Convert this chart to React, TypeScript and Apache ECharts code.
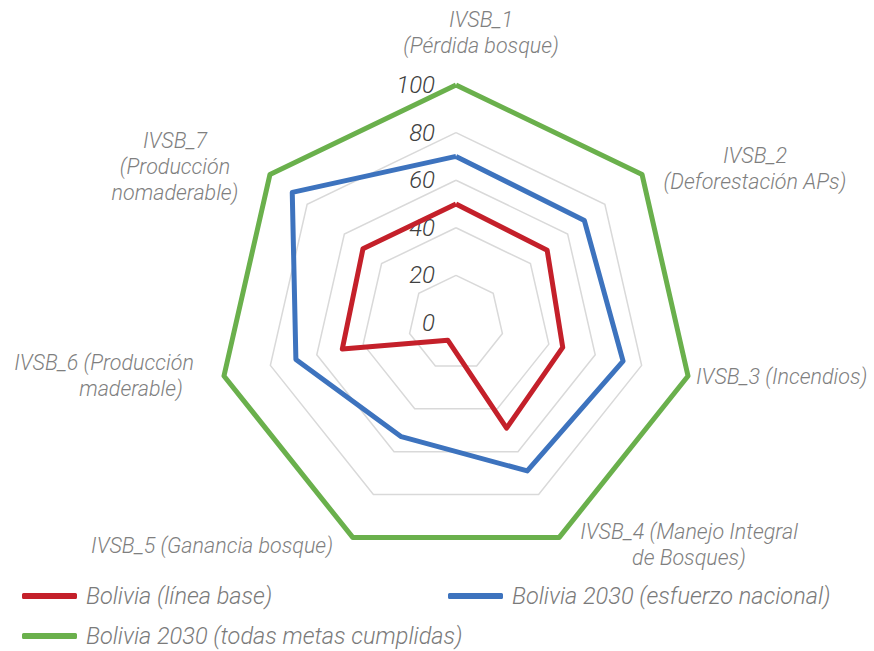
import React, { useEffect, useRef } from "react";
import * as echarts from "echarts";

// ---- data ----
const indicatorNames = [
  "IVSB_1\n(Pérdida bosque)",
  "IVSB_2\n(Deforestación APs)",
  "IVSB_3 (Incendios)",
  "IVSB_4 (Manejo Integral\nde Bosques)",
  "IVSB_5 (Ganancia bosque)",
  "IVSB_6 (Producción\nmaderable)",
  "IVSB_7\n(Producción\nnomaderable)",
];
const seriesNames = [
  "Bolivia (línea base)",
  "Bolivia 2030 (esfuerzo nacional)",
  "Bolivia 2030 (todas metas cumplidas)",
];
const lineaBase = [50, 49, 46, 49, 8, 49, 50];
const esfuerzoNacional = [70, 69, 72, 69, 53, 69, 88];
const metasCumplidas = [100, 100, 100, 100, 100, 100, 100];
const axisMin = 0;
const axisMax = 100;

// ---- layout / style (not data) ----
const FONT = "Roboto";
const colors = ["#C4202A", "#3D73BE", "#6AB04C"];
const nameLayout = [
  { x: 481, y: 32, align: "center", shift: 0 },
  { x: 755, y: 168, align: "center", shift: 0 },
  { x: 696, y: 376, align: "left", shift: 0 },
  { x: 689, y: 544, align: "center", shift: 0 },
  { x: 212, y: 545, align: "center", shift: 0 },
  { x: 104, y: 375, align: "center", shift: 54 },
  { x: 175, y: 166, align: "center", shift: 0 },
];

// ECharts radar places indicators counter-clockwise; reorder to clockwise
const order = [0, 6, 5, 4, 3, 2, 1];
const reorder = (arr: number[]) => order.map((i) => arr[i]);

export default function App() {
  const ref = useRef<HTMLDivElement>(null);
  useEffect(() => {
    if (!ref.current) return;
    const chart = echarts.init(ref.current, undefined, { renderer: "svg" });
    const values = [lineaBase, esfuerzoNacional, metasCumplidas];
    const nameText = (i: number) => {
      const l = nameLayout[i];
      const lines = indicatorNames[i].split("\n");
      const text = l.shift
        ? lines.map((s, j) => (j === lines.length - 1 ? `{s|${s}}` : `{n|${s}}`)).join("\n")
        : indicatorNames[i];
      const tok = {
        fill: "#7f7f7f",
        fontFamily: FONT,
        fontSize: 21.5,
        fontStyle: "italic",
        fontWeight: 300,
        lineHeight: 26,
      };
      return {
        type: "text",
        x: l.x,
        y: l.y,
        style: {
          text,
          ...tok,
          align: l.align,
          verticalAlign: "middle",
          rich: {
            n: { ...tok },
            s: { ...tok, padding: [0, 0, 0, l.shift] },
          },
        },
      };
    };
    const legendBase = {
      icon: "roundRect",
      itemWidth: 55,
      itemHeight: 6,
      textStyle: {
        color: "#7a7a7a",
        fontFamily: FONT,
        fontSize: 23.5,
        fontStyle: "italic",
        fontWeight: 300,
        padding: [0, 0, 0, 4],
        lineHeight: 26,
      },
    };
    chart.setOption({
      animation: false,
      backgroundColor: "#ffffff",
      legend: [
        { ...legendBase, data: [seriesNames[0]], left: 17, top: 578 },
        { ...legendBase, data: [seriesNames[1]], left: 443, top: 578 },
        { ...legendBase, data: [seriesNames[2]], left: 17, top: 618 },
      ],
      radar: {
        center: [456, 323],
        radius: 238,
        startAngle: 90,
        splitNumber: 5,
        shape: "polygon",
        axisName: { show: false },
        axisLine: { show: false },
        axisTick: { show: false },
        splitArea: { show: false },
        splitLine: { lineStyle: { color: "#d9d9d9", width: 1.5 } },
        axisLabel: { show: false },
        indicator: order.map((i, k) => ({
          name: indicatorNames[i],
          min: axisMin,
          max: axisMax,
          ...(k === 0
            ? {
                axisLabel: {
                  show: true,
                  color: "#404040",
                  fontFamily: FONT,
                  fontSize: 24,
                  fontStyle: "italic",
                  fontWeight: 300,
                  margin: 21,
                },
              }
            : {}),
        })),
      },
      series: [
        {
          type: "radar",
          symbol: "none",
          data: values.map((v, i) => ({
            name: seriesNames[i],
            value: reorder(v),
            lineStyle: { color: colors[i], width: 5 },
            itemStyle: { color: colors[i] },
          })),
        },
      ],
      graphic: indicatorNames.map((_, i) => nameText(i)),
    });
    return () => chart.dispose();
  }, []);
  return (
    <div
      ref={ref}
      style={{ position: "fixed", left: 0, top: 0, width: 874, height: 651 }}
    />
  );
}
